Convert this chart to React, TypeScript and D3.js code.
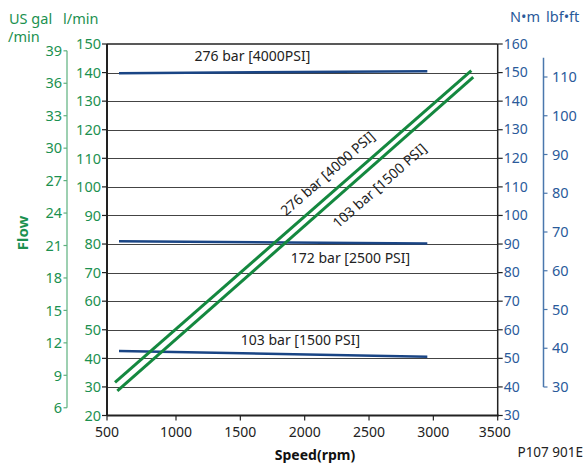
import React from "react";
import * as d3 from "d3";

// ---- data ----
const rpmTicks = [500, 1000, 1500, 2000, 2500, 3000, 3500];
const flowTicks = [20, 30, 40, 50, 60, 70, 80, 90, 100, 110, 120, 130, 140, 150];
const galTicks = [6, 9, 12, 15, 18, 21, 24, 27, 30, 33, 36, 39];
const torqueTicks = [30, 40, 50, 60, 70, 80, 90, 100, 110, 120, 130, 140, 150, 160];
const lbfTicks = [30, 40, 50, 60, 70, 80, 90, 100, 110];

// flow lines (l/min vs rpm)
const flow276Rpm = [558, 3295];
const flow276 = [31.6, 140.7];
const flow103Rpm = [575, 3310];
const flow103 = [28.6, 138.4];

// torque lines (N·m vs rpm)
const torqueRpm = [587, 2953];
const torque276 = [149.8, 150.5];
const torque172 = [91.0, 90.2];
const torque103 = [52.6, 50.6];

const GAL_TO_L = 3.785;

const GREEN = "#1b9150";
const GREEN_LINE = "#14883f";
const BLUE = "#2a5a9a";
const BLUE_LINE = "#1a4585";
const FONT = "'Noto Sans', sans-serif";

export default function App() {
  const x = d3.scaleLinear().domain([500, 1000, 3500]).range([107, 176, 497.7]);
  const yFlow = d3.scaleLinear().domain([20, 150]).range([415.5, 44]);
  const yTorque = d3.scaleLinear().domain([30, 160]).range([415.5, 44]);
  const yLbf = d3.scaleLinear().domain([30, 110]).range([387, 77]);

  const flowLine = d3.line<[number, number]>().x((d) => x(d[0])).y((d) => yFlow(d[1]));
  const torqueLine = d3.line<[number, number]>().x((d) => x(d[0])).y((d) => yTorque(d[1]));
  const zip = (a: number[], b: number[]) => a.map((v, i) => [v, b[i]] as [number, number]);

  // rotated labels along flow lines
  const rotLabel = (rpms: number[], vals: number[], rpmAt: number, offset: number, text: string) => {
    const x0 = x(rpms[0]), y0 = yFlow(vals[0]), x1 = x(rpms[1]), y1 = yFlow(vals[1]);
    const ang = Math.atan2(y1 - y0, x1 - x0);
    const px = x(rpmAt);
    const py = y0 + ((px - x0) * (y1 - y0)) / (x1 - x0);
    const nx = Math.sin(ang), ny = -Math.cos(ang);
    const cx = px + nx * offset, cy = py + ny * offset;
    return (
      <text
        transform={`translate(${cx},${cy}) rotate(${(ang * 180) / Math.PI})`}
        textAnchor="middle"
        dominantBaseline="central"
        fontSize={14}
        fill="#222"
      >
        {text}
      </text>
    );
  };

  const left = x(500), right = x(3500), top = yFlow(150), bottom = yFlow(20);

  return (
    <svg width={587} height={467} style={{ position: "absolute", left: 0, top: 0 }} fontFamily={FONT}>
      <rect width={587} height={467} fill="#fff" />
      {/* grid */}
      {flowTicks.filter((t) => t > 20 && t < 150).map((t) => (
        <line key={t} x1={left} x2={right} y1={Math.round(yFlow(t)) + 0.5} y2={Math.round(yFlow(t)) + 0.5} stroke="#444" strokeWidth={1} />
      ))}
      {/* frame */}
      <line x1={left} x2={right} y1={top} y2={top} stroke="#222" strokeWidth={1.5} />
      <line x1={left} x2={right + 1} y1={bottom} y2={bottom} stroke="#222" strokeWidth={2} />
      <line x1={left} x2={left} y1={top} y2={bottom} stroke="#222" strokeWidth={2} />
      <line x1={right} x2={right} y1={top} y2={bottom} stroke="#222" strokeWidth={1.5} />

      {/* left l/min axis */}
      {flowTicks.map((t) => (
        <g key={t}>
          <line x1={left - 5} x2={left} y1={yFlow(t)} y2={yFlow(t)} stroke="#222" strokeWidth={1.2} />
          <text x={left - 6} y={yFlow(t)} dy="0.36em" textAnchor="end" fontSize={14.5} fill={GREEN}>{t}</text>
        </g>
      ))}
      {/* gal axis */}
      <line x1={67} x2={67} y1={yFlow(39 * GAL_TO_L)} y2={yFlow(6 * GAL_TO_L)} stroke="#7cc197" strokeWidth={1.5} />
      {galTicks.map((t) => (
        <g key={t}>
          <line x1={63.5} x2={67} y1={yFlow(t * GAL_TO_L)} y2={yFlow(t * GAL_TO_L)} stroke="#5fb07f" strokeWidth={1.2} />
          <text x={62} y={yFlow(t * GAL_TO_L)} dy="0.36em" textAnchor="end" fontSize={14.5} fill={GREEN}>{t}</text>
        </g>
      ))}
      {/* right N·m axis */}
      {torqueTicks.map((t) => (
        <g key={t}>
          <line x1={right} x2={right + 5} y1={yTorque(t)} y2={yTorque(t)} stroke="#222" strokeWidth={1.2} />
          <text x={right + 6} y={yTorque(t)} dy="0.34em" textAnchor="start" fontSize={14} fill={BLUE}>{t}</text>
        </g>
      ))}
      {/* lbf·ft axis */}
      <line x1={543.5} x2={543.5} y1={yLbf(115)} y2={yLbf(30)} stroke="#4a77ad" strokeWidth={1.5} />
      {lbfTicks.map((t) => (
        <g key={t}>
          <line x1={543.5} x2={547.5} y1={yLbf(t)} y2={yLbf(t)} stroke="#4a77ad" strokeWidth={1.2} />
          <text x={552} y={yLbf(t)} dy="0.36em" textAnchor="start" fontSize={14.5} fill={BLUE}>{t}</text>
        </g>
      ))}
      {/* bottom axis */}
      {rpmTicks.map((t) => (
        <g key={t}>
          <line x1={x(t)} x2={x(t)} y1={bottom} y2={bottom + 5} stroke="#222" strokeWidth={1.2} />
          <text x={t === 3500 ? x(t) - 3 : x(t)} y={437} textAnchor="middle" fontSize={14} fill="#222">{t}</text>
        </g>
      ))}
      <text x={315} y={460} textAnchor="middle" fontSize={14} fontWeight="bold" fill="#111">Speed(rpm)</text>
      <text x={583} y={457} textAnchor="end" fontSize={13.5} fill="#222">P107 901E</text>

      {/* axis titles */}
      <text x={9} y={24} fontSize={14.5} fill={GREEN}>US gal</text>
      <text x={8} y={42} fontSize={14.5} fill={GREEN}>/min</text>
      <text x={63} y={24} fontSize={14.5} fill={GREEN}>l/min</text>
      <text transform="translate(28,233) rotate(-90)" textAnchor="middle" fontSize={15} fontWeight="bold" fill={GREEN}>Flow</text>
      <text x={510} y={22} fontSize={14.5} fill={BLUE}>N•m</text>
      <text x={546} y={22} fontSize={14.5} fill={BLUE}>lbf•ft</text>

      {/* torque lines */}
      <path d={torqueLine(zip(torqueRpm, torque276)) || ""} stroke={BLUE_LINE} strokeWidth={2.5} fill="none" />
      <path d={torqueLine(zip(torqueRpm, torque172)) || ""} stroke={BLUE_LINE} strokeWidth={2.5} fill="none" />
      <path d={torqueLine(zip(torqueRpm, torque103)) || ""} stroke={BLUE_LINE} strokeWidth={2.5} fill="none" />
      <text x={x(1594)} y={yFlow(143.9)} textAnchor="middle" fontSize={14} fill="#222">276 bar [4000PSI]</text>
      <text x={x(2356)} y={yTorque(83.3)} textAnchor="middle" fontSize={14} fill="#222">172 bar [2500 PSI]</text>
      <text x={x(1967)} y={yTorque(54.6)} textAnchor="middle" fontSize={14} fill="#222">103 bar [1500 PSI]</text>

      {/* flow lines */}
      <path d={flowLine(zip(flow276Rpm, flow276)) || ""} stroke={GREEN_LINE} strokeWidth={3} fill="none" />
      <path d={flowLine(zip(flow103Rpm, flow103)) || ""} stroke={GREEN_LINE} strokeWidth={3} fill="none" />
      {rotLabel(flow276Rpm, flow276, 2267, 17.7, "276 bar [4000 PSI]")}
      {rotLabel(flow103Rpm, flow103, 2482, -18.9, "103 bar [1500 PSI]")}
    </svg>
  );
}
